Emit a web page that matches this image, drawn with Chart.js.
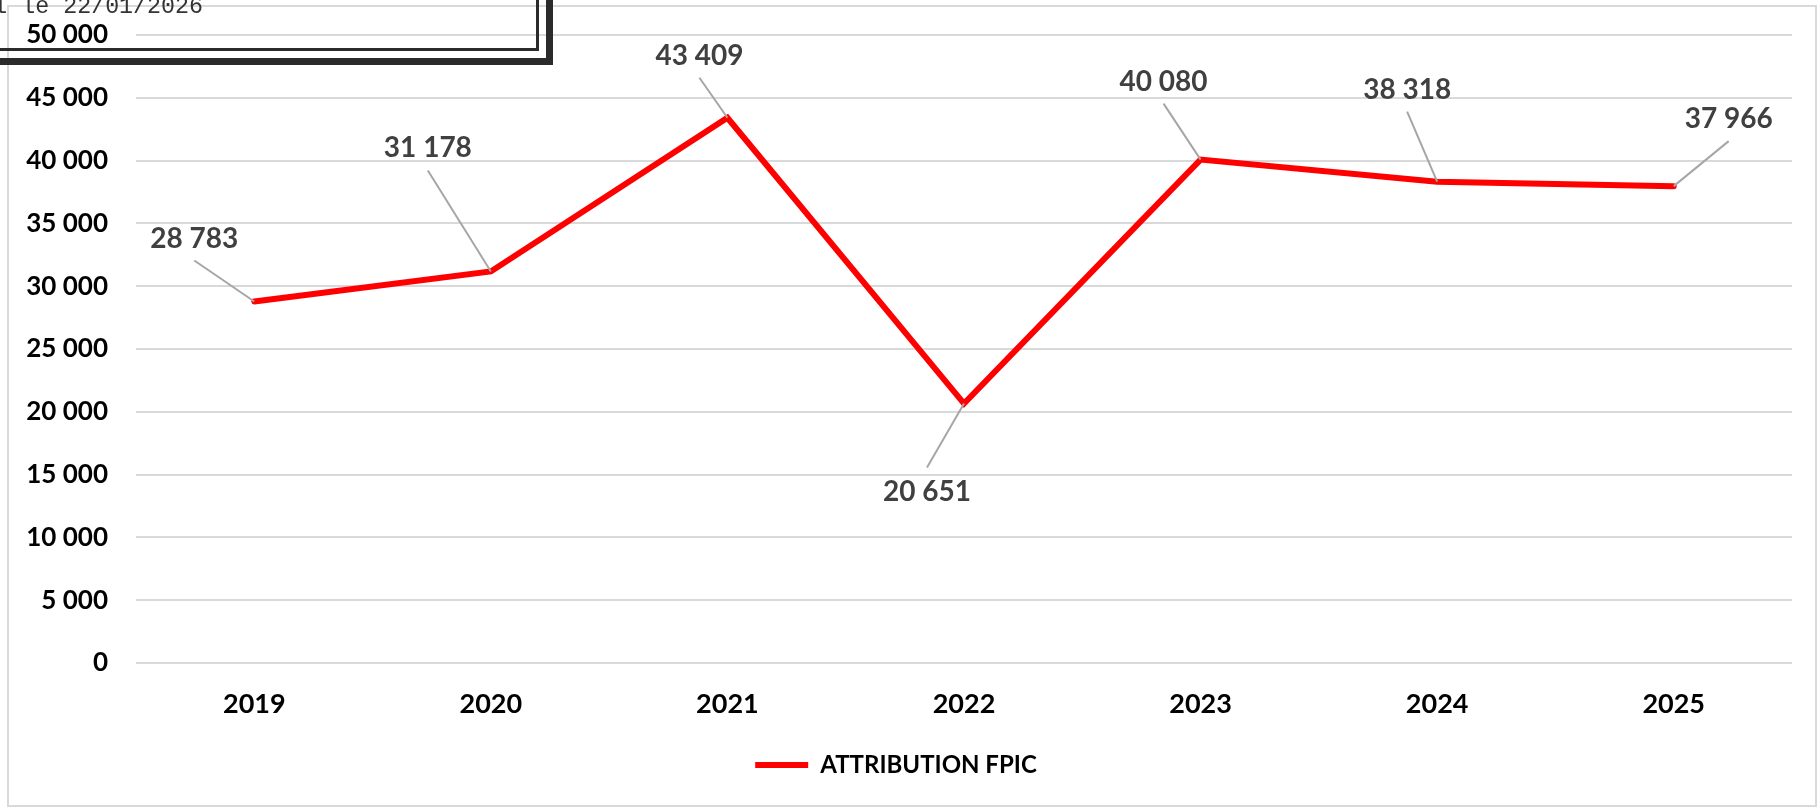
<!DOCTYPE html>
<html lang="fr">
<head>
  <meta charset="UTF-8" />
  <title>Attribution FPIC</title>
  <script src="https://cdn.jsdelivr.net/npm/chart.js"></script>
  <style>
    html, body { margin: 0; padding: 0; background: #fff; overflow: hidden; }
    #zone { position: relative; width: 1819px; height: 808px; }
    #cadre { position: absolute; left: 7px; top: 5px; width: 1810px; height: 802px; border: 2px solid #d9d9d9; box-sizing: border-box; }
    #graphique { position: absolute; left: 0; top: 0; }
    /* tampon de date en haut à gauche */
    #tampon { position: absolute; left: -20px; top: -20px; width: 559px; height: 71px; border: 7px solid #2b2b2b; box-sizing: content-box; }
    #tamponInterieur { position: absolute; left: -20px; top: -20px; width: 556px; height: 68px; border-right: 3px solid #2b2b2b; border-bottom: 3px solid #2b2b2b; }
    #dateTampon { position: absolute; left: -300px; top: -6px; width: 503px; text-align: right; font: 23.3px "Liberation Mono", monospace; color: #333; white-space: pre; }
  </style>
</head>
<body>
  <div id="zone">
    <div id="cadre"></div>
    <canvas id="graphique" width="1819" height="808"></canvas>
    <div id="tampon"></div>
    <div id="tamponInterieur"></div>
    <div id="dateTampon">Extrait du portail le 22/01/2026</div>
  </div>

  <script>
    const annees = ["2019", "2020", "2021", "2022", "2023", "2024", "2025"];
    const attributionFpic = [28783, 31178, 43409, 20651, 40080, 38318, 37966];
    const graduations = [0, 5000, 10000, 15000, 20000, 25000, 30000, 35000, 40000, 45000, 50000];

    // décalage des étiquettes par rapport au point (px), comme dans Excel
    const decalages = [[-60, -63], [-63, -123], [-28, -62], [-37, 88], [-37, -78], [-30, -92], [55, -67]];

    function formatNombre(v) {
      return String(v).replace(/\B(?=(\d{3})+(?!\d))/g, " ");
    }

    const etiquettesPlugin = {
      id: "etiquettes",
      afterDatasetsDraw(chart) {
        const ctx = chart.ctx;
        const meta = chart.getDatasetMeta(0);
        ctx.save();
        meta.data.forEach((pt, i) => {
          const [dx, dy] = decalages[i];
          const lx = pt.x + dx;
          const ly = pt.y + dy;
          const bord = dy < 0 ? ly + 22 : ly - 24;
          ctx.strokeStyle = "#a6a6a6";
          ctx.lineWidth = 2;
          ctx.beginPath();
          ctx.moveTo(lx, bord);
          ctx.lineTo(pt.x, pt.y);
          ctx.stroke();
          ctx.fillStyle = "#404040";
          ctx.font = "bold 28px Lato";
          ctx.textAlign = "center";
          ctx.textBaseline = "middle";
          ctx.fillText(formatNombre(attributionFpic[i]), lx, ly);
        });
        ctx.restore();
      }
    };

    new Chart(document.getElementById("graphique"), {
      type: "line",
      data: {
        labels: annees,
        datasets: [{
          label: "ATTRIBUTION FPIC",
          data: attributionFpic,
          borderColor: "#ff0000",
          backgroundColor: "#ff0000",
          borderWidth: 6,
          borderCapStyle: "round",
          borderJoinStyle: "miter",
          pointRadius: 0,
          tension: 0
        }]
      },
      options: {
        responsive: false,
        animation: false,
        layout: { padding: { top: 35, right: 27, left: 0, bottom: 21 } },
        plugins: {
          legend: {
            position: "bottom",
            labels: {
              usePointStyle: true,
              pointStyle: "line",
              pointStyleWidth: 53,
              color: "#000",
              font: { family: "Lato", size: 24, weight: "bold" },
              padding: 10
            }
          },
          tooltip: { enabled: false }
        },
        scales: {
          x: {
            offset: true,
            grid: { display: false },
            border: { display: false },
            ticks: { color: "#000", font: { family: "Lato", size: 27, weight: "bold" }, padding: 17 },
            afterFit(s) { s.height = 80; }
          },
          y: {
            min: 0,
            max: 50000,
            border: { display: false },
            grid: { color: "#d9d9d9", lineWidth: 2, drawTicks: false },
            ticks: {
              color: "#000",
              font: { family: "Lato", size: 26, weight: "bold" },
              padding: 28,
              callback: v => formatNombre(v)
            },
            afterBuildTicks(s) { s.ticks = graduations.map(v => ({ value: v })); },
            afterFit(s) {
              s.width = 136;
              s.paddingTop = 16;
              s.paddingBottom = 16;
            }
          }
        }
      },
      plugins: [etiquettesPlugin]
    });
  </script>
</body>
</html>
